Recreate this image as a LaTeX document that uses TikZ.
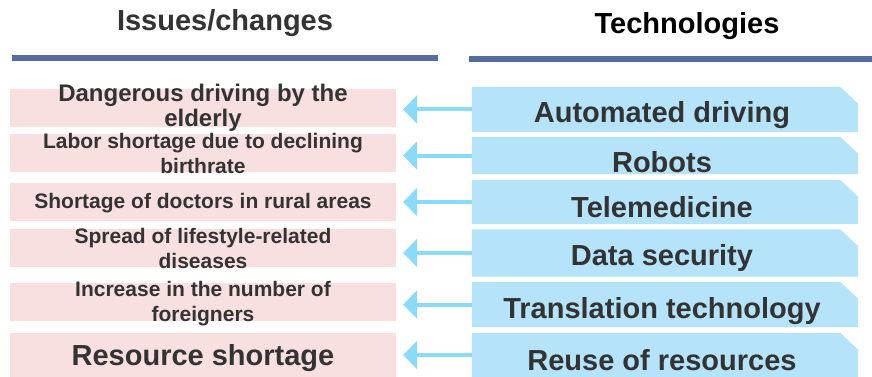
\documentclass[tikz,border=0pt]{standalone}
\usepackage{fontspec}
\setmainfont{Liberation Sans}
\usetikzlibrary{arrows.meta,calc}
\definecolor{pinkfill}{RGB}{249,224,224}
\definecolor{bluefill}{RGB}{180,227,250}
\definecolor{arrowblue}{RGB}{138,218,250}
\definecolor{rulecol}{RGB}{84,109,158}
\definecolor{txt}{RGB}{51,51,51}
\tikzset{
  pinkbox/.style={fill=pinkfill, draw=none, minimum width=386pt, inner sep=0pt},
  bluebox/.style={draw=none, fill=none, minimum width=386pt, inner sep=0pt},
  lefttxt/.style={font=\bfseries\fontsize{21}{25}\selectfont, text=txt, align=center, inner sep=0pt},
  righttxt/.style={font=\bfseries\fontsize{29}{33}\selectfont, text=txt, anchor=base, inner sep=0pt},
  headtxt/.style={font=\bfseries\fontsize{29}{33}\selectfont, anchor=base, inner sep=0pt},
  arr/.style={draw=arrowblue, line width=4pt, -{Triangle[length=14pt,width=28pt]}, shorten >=7pt},
}
\newcommand{\bluefillshape}[1]{%
  \fill[bluefill] (#1.south west) -- (#1.north west) -- ([xshift=-18pt]#1.north east)
    -- ([yshift=-17pt]#1.north east) -- (#1.south east) -- cycle;}
\begin{document}
\begin{tikzpicture}[x=1pt,y=-1pt]
\useasboundingbox (0,0) rectangle (872,377);
% headers
\node[headtxt, text=txt] (h1) at (225,31) {Issues/changes};
\node[headtxt, text=black] (h2) at (687,34) {Technologies};
\fill[rulecol] (12,55) rectangle (438,61);
\fill[rulecol] (469,56) rectangle (872,62);
% pink boxes
\node[pinkbox, minimum height=38pt] (p1) at (203,108) {};
\node[pinkbox, minimum height=38pt] (p2) at (203,153) {};
\node[pinkbox, minimum height=38pt] (p3) at (203,202) {};
\node[pinkbox, minimum height=38pt] (p4) at (203,248) {};
\node[pinkbox, minimum height=38pt] (p5) at (203,302) {};
\node[pinkbox, minimum height=44pt] (p6) at (203,355) {};
% left texts
\node[lefttxt, font=\bfseries\fontsize{24}{25}\selectfont] (t1) at (p1.center) {Dangerous driving by the\\elderly};
\node[lefttxt] (t2) at (p2.center) {Labor shortage due to declining\\birthrate};
\node[lefttxt] (t3) at ([yshift=-1pt]p3.center) {Shortage of doctors in rural areas};
\node[lefttxt] (t4) at (p4.center) {Spread of lifestyle-related\\diseases};
\node[lefttxt] (t5) at ([yshift=-2pt]p5.center) {Increase in the number of\\foreigners};
\node[lefttxt, font=\bfseries\fontsize{29}{33}\selectfont] (t6) at ([yshift=-3pt]p6.center) {Resource shortage};
% blue boxes
\node[bluebox, minimum height=45pt] (b1) at (665,109.5) {};
\node[bluebox, minimum height=37pt] (b2) at (665,155.5) {};
\node[bluebox, minimum height=44pt] (b3) at (665,202) {};
\node[bluebox, minimum height=47pt] (b4) at (665,253) {};
\node[bluebox, minimum height=45pt] (b5) at (665,304.5) {};
\node[bluebox, minimum height=44pt] (b6) at (665,355) {};
\bluefillshape{b1}
\bluefillshape{b2}
\bluefillshape{b3}
\bluefillshape{b4}
\bluefillshape{b5}
\bluefillshape{b6}
% right texts
\node[righttxt] (r1) at (662,123) {Automated driving};
\node[righttxt] (r2) at (662,172) {Robots};
\node[righttxt] (r3) at (662,217) {Telemedicine};
\node[righttxt] (r4) at (662,265) {Data security};
\node[righttxt] (r5) at (662,318) {Translation technology};
\node[righttxt] (r6) at (662,370) {Reuse of resources};
% arrows
\foreach \i in {1,...,6}{
  \draw[arr] (b\i.west) -- (b\i.west -| p\i.east);
}
\end{tikzpicture}
\end{document}
